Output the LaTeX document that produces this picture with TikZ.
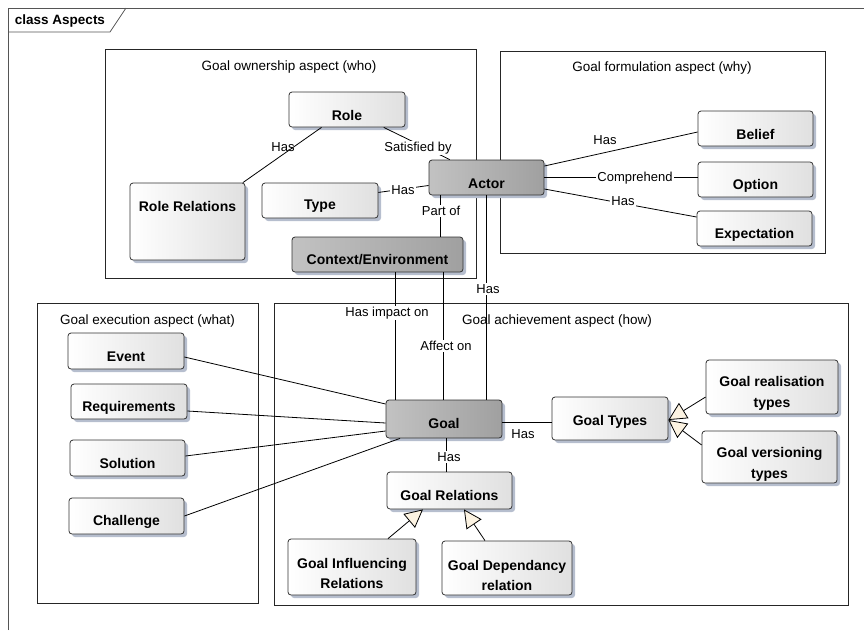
\documentclass[tikz,border=0pt]{standalone}
\usepackage{fontspec}
\setmainfont{Liberation Sans}
\usetikzlibrary{shadows,arrows.meta,calc}
\definecolor{lightR}{HTML}{E0E0E0}
\definecolor{darkL}{HTML}{C2C2C2}
\definecolor{darkR}{HTML}{A0A0A0}
\definecolor{shad}{HTML}{B6BECE}
\definecolor{cream}{HTML}{FCF3E2}
\definecolor{framec}{HTML}{555555}
\newcommand\mkcls[8]{%
  \node[#1, minimum width=#5pt, minimum height=#6pt] (#2) at (#3,#4) {};
  \node[ctext] (#2-t) at ([yshift=-#7pt]#2.north) {#8};}
\begin{document}
\begin{tikzpicture}[x=1pt,y=-1pt, line width=0.8pt,
  cls/.style={draw=black!80, rounded corners=3pt, inner sep=0pt, left color=white, right color=lightR,
    drop shadow={shadow xshift=3pt, shadow yshift=-3pt, fill=shad, opacity=1}},
  dcls/.style={cls, left color=darkL, right color=darkR},
  ctext/.style={font=\fontsize{14}{20.5}\selectfont\bfseries, align=center, inner sep=0pt},
  pkg/.style={draw=black!85, line width=0.8pt},
  ptitle/.style={font=\fontsize{13.5}{16}\selectfont, inner sep=0pt},
  elbl/.style={font=\fontsize{13}{15}\selectfont, inner sep=1pt},
  wlbl/.style={elbl, fill=white},
  conn/.style={draw=black, line width=0.8pt},
  gen/.style={conn, -{Triangle[length=18pt,width=18pt,fill=cream]}},
]
\useasboundingbox (0,0) rectangle (864,630);
% frame
\draw[framec, line width=0.8pt] (8,630) -- (8,8) -- (864,8);
\draw[framec, line width=0.8pt] (8,32) -- (110,32) -- (126,8);
\node[font=\fontsize{13.5}{16}\selectfont\bfseries, inner sep=0pt] (ftitle) at (60,21) {class Aspects};
% packages
\draw[pkg] (105,49) rectangle (476,278);
\node[ptitle] (p1) at (289,67) {Goal ownership aspect (who)};
\draw[pkg] (500,51) rectangle (825,253);
\node[ptitle] (p2) at (662,68) {Goal formulation aspect (why)};
\draw[pkg] (37,303) rectangle (258,603);
\node[ptitle] (p3) at (147.5,321) {Goal execution aspect (what)};
\draw[pkg] (274,303) rectangle (848,605);
\node[ptitle] (p4) at (557,321) {Goal achievement aspect (how)};
% classes
\mkcls{cls}{role}{347}{109.5}{116}{35}{24}{Role}
\mkcls{cls}{rr}{187.5}{221.5}{115}{77}{24}{Role Relations}
\mkcls{cls}{type}{320}{200.5}{116}{35}{24}{Type}
\mkcls{dcls}{ctx}{377.5}{254.5}{171}{35}{23}{Context/Environment}
\mkcls{dcls}{actor}{486.5}{177.5}{115}{35}{24}{Actor}
\mkcls{cls}{belief}{755.5}{128.5}{115}{35}{24}{Belief}
\mkcls{cls}{option}{755.5}{179.5}{115}{35}{24}{Option}
\mkcls{cls}{expect}{754.5}{228.5}{115}{35}{24}{Expectation}
\mkcls{cls}{event}{126}{351}{116}{36}{24}{Event}
\mkcls{cls}{req}{129}{401.5}{116}{35}{24}{Requirements}
\mkcls{cls}{sol}{127.5}{458}{115}{36}{24}{Solution}
\mkcls{cls}{chal}{126.5}{516}{115}{36}{24}{Challenge}
\mkcls{dcls}{goal}{444}{419}{116}{38}{24}{Goal}
\mkcls{cls}{gt}{610}{418.5}{116}{43}{25}{Goal Types}
\mkcls{cls}{real}{772}{387}{132}{54}{34}{Goal realisation\\types}
\mkcls{cls}{vers}{769.5}{457}{135}{52}{34}{Goal versioning\\types}
\mkcls{cls}{gr}{449.5}{490.5}{125}{37}{24}{Goal Relations}
\mkcls{cls}{infl}{352}{567}{128}{56}{35}{Goal Influencing\\Relations}
\mkcls{cls}{dep}{507}{568}{130}{54}{35}{Goal Dependancy\\relation}
% connectors
\draw[conn] (role) -- (rr) node[elbl] (l1) at (283,147) {Has};
\draw[conn] (role) -- (actor) node[wlbl] (l2) at (418,148) {Satisfied by};
\draw[conn] (type) -- (actor) node[wlbl] (l3) at (403,190) {Has};
\draw[conn] ([xshift=-46.5pt]actor.south) -- ([xshift=-46.5pt]actor.south |- ctx.north)
  node[wlbl] (l4) at (441,211) {Part of};
\draw[conn] ([yshift=11.5pt]actor.east) -- ([yshift=-3.5pt]belief.west) node[elbl] (l5) at (605,140) {Has};
\draw[conn] (actor.east) -- (actor.east -| option.west) node[wlbl] (l6) at (635,178) {Comprehend};
\draw[conn] ([yshift=-11.5pt]actor.east) -- ([yshift=11.5pt]expect.west) node[wlbl] (l7) at (623,201) {Has};
\draw[conn] (actor.south) -- (actor.south |- goal.north) node[wlbl] (l8) at (488,289) {Has};
\draw[conn] ([xshift=17.5pt]ctx.south) -- ([xshift=17.5pt]ctx.south |- goal.north) node[wlbl] (l9) at (387,313) {Has impact on};
\draw[conn] ([xshift=65.5pt]ctx.south) -- ([xshift=65.5pt]ctx.south |- goal.north) node[wlbl] (l10) at (446,346) {Affect on};
\draw[conn] ([yshift=-6pt]event.east) -- ([yshift=15pt]goal.west);
\draw[conn] ([yshift=-9.5pt]req.east) -- ([yshift=-4pt]goal.west);
\draw[conn] ([yshift=2pt]sol.east) -- ([yshift=-12pt]goal.west);
\draw[conn] (chal.east) -- ([xshift=-44pt]goal.south);
\draw[conn] ([yshift=-3pt]goal.east) -- ([yshift=-3pt]goal.east -| gt.west) node[elbl] (l11) at (523,434) {Has};
\draw[conn] ([xshift=2pt]goal.south) -- ([xshift=2pt]goal.south |- gr.north) node[wlbl] (l12) at (449,457) {Has};
% generalisations
\draw[gen] ([yshift=-10pt]real.west) -- ([yshift=-1.5pt]gt.east);
\draw[gen] ([yshift=12pt]vers.west) -- ([yshift=-1.5pt]gt.east);
\draw[gen] ([xshift=36pt]infl.north) -- ([xshift=-26.5pt]gr.south);
\draw[gen] ([xshift=-22pt]dep.north) -- ([xshift=14.5pt]gr.south);
\end{tikzpicture}
\end{document}
